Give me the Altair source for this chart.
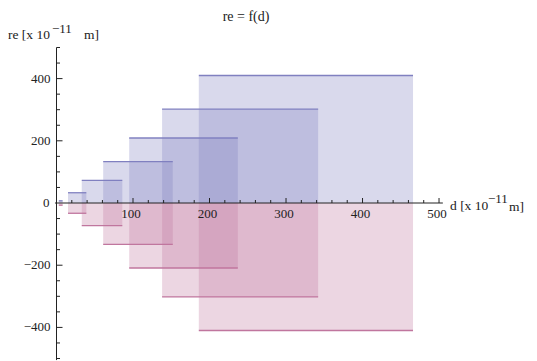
import altair as alt
import pandas as pd

# ---- data ----
d_start = [3, 15, 33, 61, 95, 138, 186]
d_end = [8, 39, 86, 152, 237, 342, 466]
re_size = [7, 33, 73, 133, 209, 302, 410]

x_major = [100, 200, 300, 400, 500]
x_major_labels = ["100", "200", "300", "400", "500"]
x_minor = [20, 40, 60, 80, 120, 140, 160, 180, 220, 240, 260, 280,
           320, 340, 360, 380, 420, 440, 460, 480]
y_major = [-400, -200, 200, 400]
y_major_labels = ["\u2212400", "\u2212200", "200", "400"]
y_minor = [-500, -450, -350, -300, -250, -150, -100, -50,
           50, 100, 150, 250, 300, 350, 450, 500]

BLUE = "#8080c0"
PINK = "#c0769e"
BLUE_LINE = "#6e6eae"
PINK_LINE = "#a05a82"
AXIS = "#222222"
FONT = "Liberation Serif"

xs = alt.Scale(domain=[-63.4, 617.6], nice=False, zero=False)
ys = alt.Scale(domain=[-508, 627], nice=False, zero=False)

rect_df = pd.DataFrame({
    "x": d_start + d_start,
    "x2": d_end + d_end,
    "y": re_size + [-v for v in re_size],
    "y0": [0] * (2 * len(re_size)),
    "side": ["up"] * len(re_size) + ["down"] * len(re_size),
    "order": list(range(2 * len(re_size))),
})

X = lambda f: alt.X(f, scale=xs, axis=None)
Y = lambda f: alt.Y(f, scale=ys, axis=None)

rects = alt.Chart(rect_df).mark_rect(opacity=0.3).encode(
    x=X("x:Q"), x2="x2:Q", y=Y("y:Q"), y2="y0:Q",
    color=alt.Color("side:N", scale=alt.Scale(domain=["up", "down"], range=[BLUE, PINK]), legend=None),
    order="order:Q",
)
edges = alt.Chart(rect_df).mark_rule(strokeWidth=1.3).encode(
    x=X("x:Q"), x2="x2:Q", y=Y("y:Q"),
    color=alt.Color("side:N", scale=alt.Scale(domain=["up", "down"], range=[BLUE_LINE, PINK_LINE]), legend=None),
)

xaxis = alt.Chart(pd.DataFrame({"x": [-2], "x2": [505], "y": [0]})).mark_rule(color=AXIS, strokeWidth=1).encode(
    x=X("x:Q"), x2="x2:Q", y=Y("y:Q"))
yaxis = alt.Chart(pd.DataFrame({"y": [-505], "y2": [500], "x": [0]})).mark_rule(color=AXIS, strokeWidth=1).encode(
    y=Y("y:Q"), y2="y2:Q", x=X("x:Q"))

xmaj_df = pd.DataFrame({"x": x_major, "y": [0] * len(x_major), "label": x_major_labels})
xmin_df = pd.DataFrame({"x": x_minor, "y": [0] * len(x_minor)})
ymaj_df = pd.DataFrame({"y": y_major, "x": [0] * len(y_major), "label": y_major_labels})
ymin_df = pd.DataFrame({"y": y_minor, "x": [0] * len(y_minor)})

xmaj_ticks = alt.Chart(xmaj_df).mark_rule(color=AXIS, y2Offset=-5).encode(
    x=X("x:Q"), y=Y("y:Q"), y2="y:Q")
xmin_ticks = alt.Chart(xmin_df).mark_rule(color=AXIS, y2Offset=-3).encode(
    x=X("x:Q"), y=Y("y:Q"), y2="y:Q")
ymaj_ticks = alt.Chart(ymaj_df).mark_rule(color=AXIS, x2Offset=6).encode(
    y=Y("y:Q"), x=X("x:Q"), x2="x:Q")
ymin_ticks = alt.Chart(ymin_df).mark_rule(color=AXIS, x2Offset=3.5).encode(
    y=Y("y:Q"), x=X("x:Q"), x2="x:Q")

xlabels = alt.Chart(xmaj_df).mark_text(font=FONT, fontSize=13, dy=11, dx=-2, baseline="middle",
                                       color=AXIS).encode(
    x=X("x:Q"), y=Y("y:Q"), text="label:N")
ylabels = alt.Chart(ymaj_df).mark_text(font=FONT, fontSize=13, dx=-6, align="right", baseline="middle",
                                       color=AXIS).encode(
    y=Y("y:Q"), x=X("x:Q"), text="label:N")
zero_label = alt.Chart(pd.DataFrame({"x": [0], "y": [0], "label": ["0"]})).mark_text(
    font=FONT, fontSize=13, dx=-7, align="right", baseline="middle", color=AXIS).encode(
    y=Y("y:Q"), x=X("x:Q"), text="label:N")

def note(txt, px, py, size=13.5, align="left"):
    return alt.Chart(pd.DataFrame({"t": [txt]})).mark_text(
        font=FONT, fontSize=size, align=align, baseline="middle", color=AXIS).encode(
        x=alt.value(px), y=alt.value(py), text="t:N")

title = note("re = f(d)", 238, 9, 14, "center")
ylab = note("re [x 10", 0, 27) + note("\u221211", 44, 21, 13) + note("m]", 76, 27)
xlab = note("d [x 10", 442, 198) + note("\u221211", 480, 191, 13) + note("m]", 501, 199)

chart = alt.layer(
    rects, edges, xaxis, yaxis, xmaj_ticks, xmin_ticks, ymaj_ticks, ymin_ticks,
    xlabels, ylabels, zero_label, title, ylab, xlab,
).properties(
    width=521, height=353, autosize="none", padding=0, background="white",
).configure_view(stroke=None)

chart.save("out.html", embed_options={"renderer": "svg", "actions": False})
